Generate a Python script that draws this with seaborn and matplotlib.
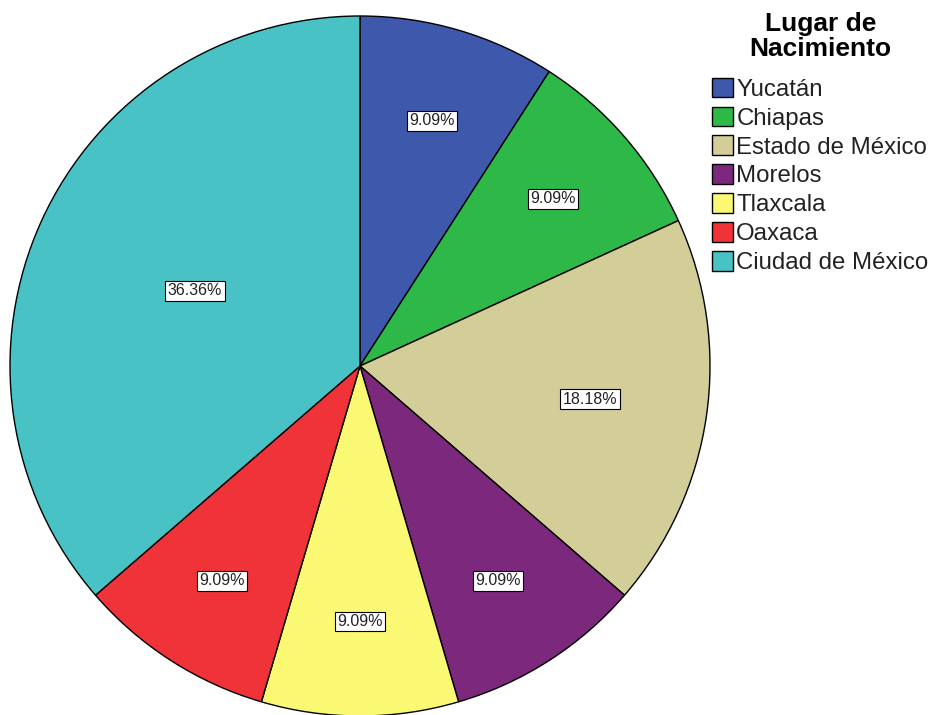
import matplotlib
matplotlib.use("Agg")
import matplotlib.pyplot as plt
import seaborn as sns
import numpy as np

categories = ["Yucatán", "Chiapas", "Estado de México", "Morelos", "Tlaxcala", "Oaxaca", "Ciudad de México"]
percentages = [9.09, 9.09, 18.18, 9.09, 9.09, 9.09, 36.36]
colors = ["#3E58AC", "#2EB848", "#D3CE97", "#7C287D", "#FBF873", "#EF3338", "#48C2C5"]
legend_title = "Lugar de\nNacimiento"

sns.set_theme(style="white")
plt.rcParams['font.family'] = ['Liberation Sans', 'DejaVu Sans']

fig = plt.figure(figsize=(9.34, 7.15), dpi=100)
W, H = 934, 715
cx, cy, r = 360, 366, 350
ax = fig.add_axes([(cx - r) / W, (H - cy - r) / H, 2 * r / W, 2 * r / H])

palette = sns.color_palette(colors)
wedges, texts, autotexts = ax.pie(
    percentages, colors=palette, startangle=90, counterclock=False,
    autopct=lambda p: f"{p:.2f}%", pctdistance=0.73,
    wedgeprops=dict(edgecolor="black", linewidth=1.0),
    textprops=dict(fontsize=11.5, color="#222222"),
)
for i, t in enumerate(autotexts):
    if percentages[i] > 30:
        x, y = t.get_position()
        t.set_position((x * 0.71, y * 0.71))
    elif percentages[i] > 15:
        x, y = t.get_position()
        t.set_position((x * 0.91, y * 0.91))
    t.set_bbox(dict(boxstyle="square,pad=0.15", facecolor="white", edgecolor="black", linewidth=0.8))
ax.set_aspect("equal")
ax.set_xlim(-1.0, 1.0)
ax.set_ylim(-1.0, 1.0)

leg = fig.legend(wedges, categories, title=legend_title, loc="upper left",
                 bbox_to_anchor=(712 / W, 1 - 12 / H), frameon=False,
                 fontsize=17.3, title_fontproperties=dict(size=19, weight="bold"),
                 handlelength=0.88, handleheight=0.88, handletextpad=0.13,
                 labelspacing=0.24, borderaxespad=0.0, borderpad=0.0)
leg._legend_box.align = "center"
leg._legend_box.sep = 12
leg.get_title().set_multialignment("center")
leg.get_title().set_linespacing(1.05)
for t in leg.get_texts():
    t.set_color("#222222")
leg.get_title().set_color("black")

fig.savefig("out.png", dpi=100)
